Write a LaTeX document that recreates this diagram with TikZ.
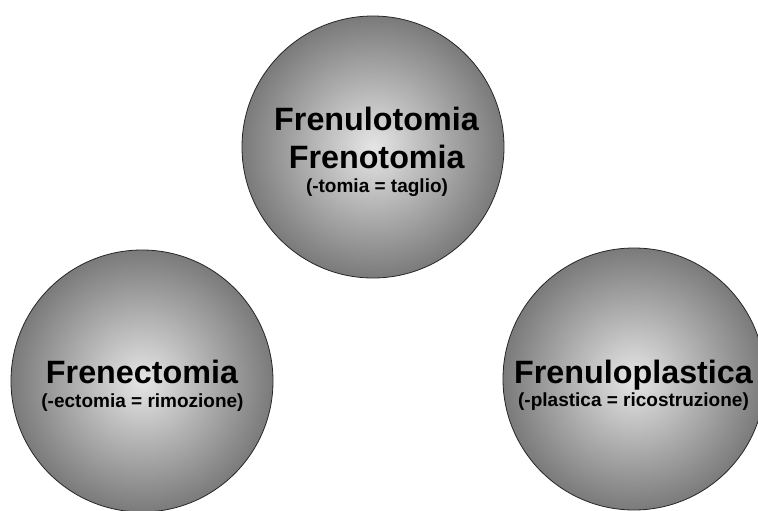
\documentclass[tikz,border=0pt]{standalone}
\usepackage{fontspec}
\setmainfont{Liberation Sans}
\begin{document}
\begin{tikzpicture}[x=1pt,y=-1pt,
  bubble/.style={circle, draw=black!85, line width=0.8pt, minimum size=262pt, inner sep=0pt,
    inner color=black!10, outer color=black!52},
  bigline/.style={anchor=base, inner sep=0pt, font=\fontsize{32.3}{38}\selectfont\bfseries},
  smallline/.style={anchor=base, inner sep=0pt, font=\fontsize{19}{22}\selectfont\bfseries}]
\useasboundingbox (0,0) rectangle (758,511);
\clip (0,0) rectangle (758,511);
\node[bubble] (top) at (373,147) {};
\node[bubble] (left) at (142,381) {};
\node[bubble] (right) at (634,379) {};
% top texts
\node[bigline] (t1) at (376.5,130) {Frenulotomia};
\node[bigline] (t2) at (376.7,168) {Frenotomia};
\node[smallline] (t3) at (377,192.5) {(-tomia = taglio)};
% left texts
\node[bigline] (l1) at (142,383.3) {Frenectomia};
\node[smallline] (l2) at (142.5,407.8) {(-ectomia = rimozione)};
% right texts
\node[bigline] (r1) at (633.5,383) {Frenuloplastica};
\node[smallline] (r2) at (633.5,406.5) {(-plastica = ricostruzione)};
\end{tikzpicture}
\end{document}
